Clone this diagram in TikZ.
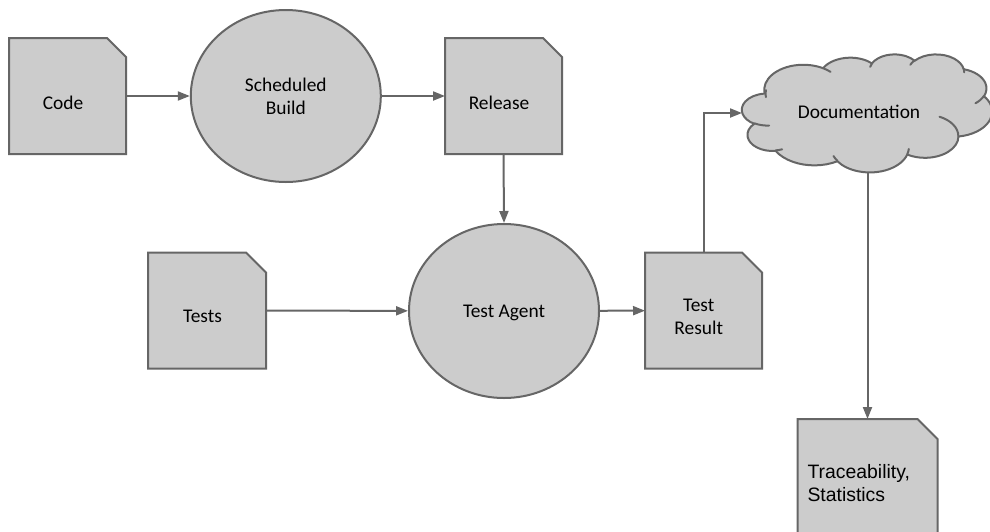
\documentclass[tikz,border=0pt]{standalone}
\usepackage{fontspec}
\setmainfont{Carlito}
\newfontfamily\arialfont{Liberation Sans}
\usetikzlibrary{arrows.meta,shapes.geometric}

\definecolor{shapefill}{HTML}{CCCCCC}
\definecolor{shapeline}{HTML}{666666}

\newcommand\lblfont{\fontsize{19.4pt}{23pt}\selectfont}

% Elliptic arc given by visual start angle and sweep (DrawingML style):
% converts to parametric angles for TikZ's arc operation.
\newcommand\cldangles[4]{%
  \pgfmathparse{atan2((#1)*sin(#3),(#2)*cos(#3))}\global\let\cldA\pgfmathresult
  \pgfmathparse{atan2((#1)*sin((#3)+(#4)),(#2)*cos((#3)+(#4)))}\global\let\cldB\pgfmathresult
  \pgfmathparse{\cldB-\cldA}\global\let\cldD\pgfmathresult
  \pgfmathparse{\cldD+((#4)>0)*(\cldD<0)*360-((#4)<0)*(\cldD>0)*360}\global\let\cldD\pgfmathresult
}

% Document shape: rectangle with the top right corner snipped off
\newcommand\drawdoc[6]{% name, centre x, centre y, width, height, snip
  \node[docbox, minimum width=#4pt, minimum height=#5pt] (#1) at (#2,#3) {};
  \filldraw[outline, fill=shapefill] (#1.south west) -- (#1.north west)
    -- ([xshift=-#6pt]#1.north east) -- ([yshift=-#6pt]#1.north east)
    -- (#1.south east) -- cycle;
}

\tikzset{
  ooarc/.style n args={4}{insert path={
    \pgfextra{\cldangles{#1}{#2}{#3}{#4}}
    arc[start angle=\cldA, delta angle=\cldD, x radius=#1pt, y radius=#2pt]}},
  outline/.style={draw=shapeline, line width=2pt, line join=miter},
  docbox/.style={rectangle, draw=none, inner sep=0pt, outer sep=0pt},
  procbox/.style={ellipse, draw=shapeline, fill=shapefill, line width=2pt,
    inner sep=0pt, minimum width=190pt, minimum height=172pt,
    align=center, font=\lblfont},
  txt/.style={inner sep=0pt, outer sep=0pt, font=\lblfont, text=black},
  conn/.style={draw=shapeline, line width=2pt,
    -{Triangle[length=12pt,width=9pt]}},
}

\begin{document}
\begin{tikzpicture}[x=1pt, y=-1pt]
\useasboundingbox (0,0) rectangle (990,531);
\fill[white] (0,0) rectangle (990,531);

% documents
\drawdoc{code}{67.5}{96}{117}{116}{19}
\drawdoc{release}{503.5}{96}{117}{116}{19}
\drawdoc{tests}{207}{310.5}{118}{116}{20}
\drawdoc{result}{703.5}{310.5}{117}{116}{20}
\drawdoc{trace}{867.5}{479}{140}{120}{20}

\node[txt, anchor=base] (codeT) at (63,109.3) {Code};
\node[txt, anchor=base] (releaseT) at (499,109.3) {Release};
\node[txt, anchor=base] (testsT) at (202.5,322.7) {Tests};
\node[txt, align=center] (resultT) at (698.7,317) {Test\\Result};
\node[txt, font=\arialfont\lblfont, align=left, anchor=west] (traceT)
  at (807.5,482.8) {Traceability,\\Statistics};

% processes
\node[procbox] (build) at (285.8,96) {Scheduled\\Build};
\node[procbox, minimum height=174pt, text depth=0pt] (agent) at (504,311) {Test Agent};

% cloud
\begin{scope}[shift={(742,54)}, x=1pt, y=1pt, xscale=5.787037, yscale=-2.731481]
  \filldraw[outline, fill=shapefill, line join=round] (3.9,14.37)
    [ooarc={6.753}{9.19}{-190.4874833}{123.7805333}]
    [ooarc={5.333}{7.267}{-144.1023833}{89.9452333}]
    [ooarc={4.365}{5.945}{-145.8079167}{99.7230167}]
    [ooarc={4.857}{6.595}{-130.9860667}{117.2417333}]
    [ooarc={5.333}{7.273}{-78.7088833}{109.0269167}]
    [ooarc={6.775}{9.22}{-46.26725}{130.269}]
    [ooarc={5.785}{7.867}{0.6250167}{114.0333333}]
    [ooarc={6.752}{9.215}{22.4516}{115.17255}]
    [ooarc={7.72}{10.543}{66.2426333}{75.7110167}]
    [ooarc={4.36}{5.918}{-274.9420833}{146.7355667}]
    [ooarc={4.345}{5.945}{-246.8285}{152.51885}]
    -- cycle;
  \draw[outline, line cap=round]
    (4.693,26.177) [ooarc={4.345}{5.945}{86.742}{26.4295}]
    (6.928,34.899) [ooarc={4.36}{5.918}{73.6104667}{11.4474667}]
    (16.478,39.09) [ooarc={6.752}{9.215}{137.62415}{14.0811}]
    (28.827,34.751) [ooarc={6.752}{9.215}{6.4532667}{15.99835}]
    (34.129,22.954) [ooarc={5.785}{7.867}{-70.29235}{70.9173667}]
    (41.798,15.354) [ooarc={5.333}{7.273}{30.3180333}{27.7515}]
    (38.324,5.426) [ooarc={4.857}{6.595}{-13.7443333}{14.8589}]
    (29.078,3.952) [ooarc={4.857}{6.595}{-149.18145}{18.1953667}]
    (22.141,4.72) [ooarc={4.365}{5.945}{-163.4942667}{17.68635}]
    (14,5.192) [ooarc={6.753}{9.19}{-66.70695}{12.31935}]
    (4.127,15.789) [ooarc={6.753}{9.19}{-190.4874833}{21.8014167}];
\end{scope}
\node[txt, anchor=base] (docT) at (859,118.3) {Documentation};
\coordinate (docW) at (742,113);
\coordinate (docS) at (867.5,172);

% connectors
\draw[conn] (code) -- (build);
\draw[conn] (build) -- (release);
\draw[conn] (release.south) -- (agent.north);
\draw[conn] (tests) -- (agent);
\draw[conn] (agent) -- (result);
\draw[conn] (result.north) |- (docW);
\draw[conn] (docS) -- (trace.north);
\end{tikzpicture}
\end{document}
